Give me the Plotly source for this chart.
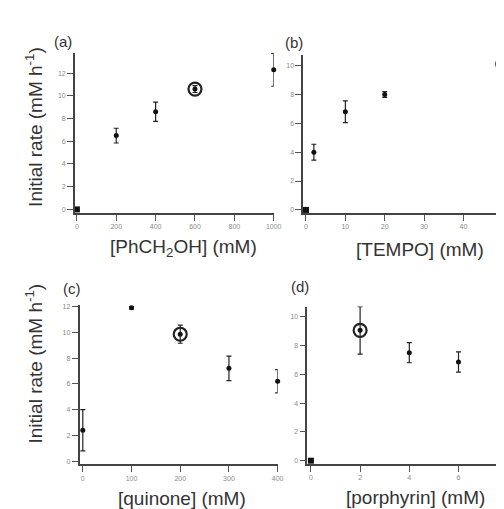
import plotly.graph_objects as go

# ---- data ----
# (a) benzyl alcohol
a_x = [200, 400, 1000]
a_y = [6.5, 8.6, 12.3]
a_err = [0.65, 0.85, 1.45]
a_circ_x = [600]
a_circ_y = [10.6]
a_circ_err = [0.3]
a_zero_x = [0]
a_zero_y = [0]

# (b) TEMPO
b_x = [2, 10, 20]
b_y = [4.0, 6.8, 8.0]
b_err = [0.55, 0.75, 0.2]
b_circ_x = [50]
b_circ_y = [10.1]
b_circ_err = [0.3]
b_zero_x = [0]
b_zero_y = [0]

# (c) quinone
c_x = [0, 100, 300, 400]
c_y = [2.4, 11.9, 7.2, 6.2]
c_err = [1.6, 0.1, 0.95, 0.9]
c_circ_x = [200]
c_circ_y = [9.85]
c_circ_err = [0.7]

# (d) porphyrin
d_x = [4, 6]
d_y = [7.5, 6.85]
d_err = [0.7, 0.7]
d_circ_x = [2]
d_circ_y = [9.05]
d_circ_err = [1.65]
d_zero_x = [0]
d_zero_y = [0]

W, H = 504, 509
def px(x):
    return x / W
def py(y):
    return 1 - y / H

fig = go.Figure()

def add_panel(xa, ya, xs, ys, es, cx, cy, ce, zx=None, zy=None):
    fig.add_trace(go.Scatter(
        x=xs, y=ys, mode="markers", xaxis=xa, yaxis=ya,
        marker=dict(symbol="circle", size=5, color="#111"),
        error_y=dict(type="data", array=es, visible=True, color="#222",
                     thickness=1.2, width=2.5),
        showlegend=False, cliponaxis=False))
    fig.add_trace(go.Scatter(
        x=cx, y=cy, mode="markers", xaxis=xa, yaxis=ya,
        marker=dict(symbol="circle-open", size=13, color="#222",
                    line=dict(width=2.2, color="#222")),
        error_y=dict(type="data", array=ce, visible=True, color="#222",
                     thickness=1.2, width=2.5),
        showlegend=False, cliponaxis=False))
    fig.add_trace(go.Scatter(
        x=cx, y=cy, mode="markers", xaxis=xa, yaxis=ya,
        marker=dict(symbol="circle", size=5, color="#111"),
        showlegend=False, cliponaxis=False))
    if zx is not None:
        fig.add_trace(go.Scatter(
            x=zx, y=zy, mode="markers", xaxis=xa, yaxis=ya,
            marker=dict(symbol="square", size=6, color="#111"),
            showlegend=False, cliponaxis=False))

add_panel("x", "y", a_x, a_y, a_err, a_circ_x, a_circ_y, a_circ_err, a_zero_x, a_zero_y)
add_panel("x2", "y2", b_x, b_y, b_err, b_circ_x, b_circ_y, b_circ_err, b_zero_x, b_zero_y)
add_panel("x3", "y3", c_x, c_y, c_err, c_circ_x, c_circ_y, c_circ_err)
add_panel("x4", "y4", d_x, d_y, d_err, d_circ_x, d_circ_y, d_circ_err, d_zero_x, d_zero_y)

tickfont = dict(family="Liberation Sans, Arial, sans-serif", size=7, color="#8a8a8a")
def ax(domain, rng, dtick, anchor):
    return dict(domain=domain, range=rng, dtick=dtick, tick0=0, anchor=anchor,
                showline=True, linecolor="#444", linewidth=1.6,
                ticks="outside", ticklen=6, tickwidth=1.2, tickcolor="#555",
                tickfont=tickfont, showgrid=False, zeroline=False)

fig.update_layout(
    width=W, height=H,
    margin=dict(l=0, r=0, t=0, b=0),
    paper_bgcolor="white", plot_bgcolor="white",
    xaxis=ax([px(68), px(270)], [-10, 1000], 200, "y"),
    yaxis=ax([py(204), py(43)], [-0.3, 13.8], 2, "x"),
    xaxis2=ax([px(300), 1.0], [-0.7, 50.3], 10, "y2"),
    yaxis2=ax([py(204), py(45)], [-0.2, 10.75], 2, "x2"),
    xaxis3=ax([px(72.7), px(274)], [-6.7, 400], 100, "y3"),
    yaxis3=ax([py(457), py(297)], [-0.25, 12.1], 2, "x3"),
    xaxis4=ax([px(304.3), 1.0], [-0.14, 7.85], 2, "y4"),
    yaxis4=ax([py(456.7), py(298.3)], [-0.23, 10.7], 2, "x4"),
)

titlefont = dict(family="Liberation Sans, Arial, sans-serif", size=19, color="#333")
labelfont = dict(family="Liberation Sans, Arial, sans-serif", size=15, color="#333")
anns = [
    ("(a)", 56, 32, 0, labelfont),
    ("(b)", 291, 33, 0, labelfont),
    ("(c)", 65, 280, 0, labelfont),
    ("(d)", 297, 278, 0, labelfont),
    ("[PhCH<sub>2</sub>OH] (mM)", 178, 239, 0, titlefont),
    ("[TEMPO] (mM)", 419, 241, 0, titlefont),
    ("[quinone] (mM)", 177, 491, 0, titlefont),
    ("[porphyrin] (mM)", 414, 490, 0, titlefont),
    ("Initial rate (mM h<sup>-1</sup>)", 27, 118, -90, titlefont),
    ("Initial rate (mM h<sup>-1</sup>)", 26, 356, -90, titlefont),
]
for text, x, y, ang, f in anns:
    fig.add_annotation(text=text, x=px(x), y=py(y), xref="paper", yref="paper",
                       showarrow=False, textangle=ang, font=f,
                       xanchor="center", yanchor="middle")

fig.write_html("out.html")
